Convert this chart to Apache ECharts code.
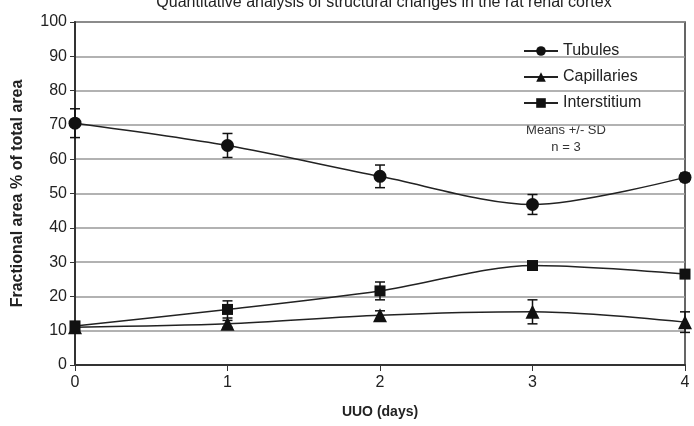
<!DOCTYPE html>
<html>
<head>
<meta charset="utf-8">
<script src="https://cdn.jsdelivr.net/npm/echarts@6/dist/echarts.min.js"></script>
<style>
  html, body { margin: 0; padding: 0; background: #fff; }
  #chart { width: 694px; height: 426px; }
</style>
</head>
<body>
<div id="chart"></div>
<script>
// data
const days = [0, 1, 2, 3, 4]
const tubules = [70.5, 64, 55, 46.8, 54.7]
const tubulesSD = [4.2, 3.5, 3.3, 2.9, 1.2]
const capillaries = [11, 12, 14.5, 15.5, 12.5]
const capillariesSD = [0.8, 1, 1.3, 3.5, 3]
const interstitium = [11.4, 16.2, 21.6, 29, 26.5]
const interstitiumSD = [0.8, 2.5, 2.6, 1, 1]

const font = 'Liberation Sans, Arial, sans-serif'

function pairs(ys) {
  return days.map((d, i) => [d, ys[i]])
}

function errorSeries(ys, sd) {
  return {
    type: 'custom',
    silent: true,
    z: 3,
    data: days.map((d, i) => [d, ys[i] - sd[i], ys[i] + sd[i]]),
    renderItem(params, api) {
      const lo = api.coord([api.value(0), api.value(1)])
      const hi = api.coord([api.value(0), api.value(2)])
      const w = 5
      const style = { stroke: '#111', lineWidth: 1.5 }
      return {
        type: 'group',
        children: [
          { type: 'line', shape: { x1: lo[0], y1: lo[1], x2: hi[0], y2: hi[1] }, style },
          { type: 'line', shape: { x1: lo[0] - w, y1: lo[1], x2: lo[0] + w, y2: lo[1] }, style },
          { type: 'line', shape: { x1: hi[0] - w, y1: hi[1], x2: hi[0] + w, y2: hi[1] }, style }
        ]
      }
    }
  }
}

function lineSeries(name, ys, symbol, size) {
  return {
    name,
    type: 'line',
    data: pairs(ys),
    smooth: 0.3,
    symbol,
    symbolSize: size,
    z: 4,
    lineStyle: { color: '#222', width: 1.5 },
    itemStyle: { color: '#111' }
  }
}

const chart = echarts.init(document.getElementById('chart'))
chart.setOption({
  animation: false,
  title: {
    text: 'Quantitative analysis of structural changes in the rat renal cortex',
    left: 379,
    textAlign: 'center',
    top: -10,
    textStyle: { fontFamily: font, fontSize: 16, fontWeight: 'normal', color: '#222' }
  },
  legend: {
    orient: 'vertical',
    left: 518,
    top: 38,
    itemGap: 10,
    itemWidth: 34,
    itemHeight: 12,
    data: ['Tubules', 'Capillaries', 'Interstitium'],
    textStyle: { fontFamily: font, fontSize: 16, color: '#222' }
  },
  graphic: [{
    type: 'text',
    x: 566,
    y: 122,
    style: {
      text: 'Means +/- SD\nn = 3',
      fontFamily: font,
      fontSize: 13,
      lineHeight: 17,
      align: 'center',
      fill: '#333'
    }
  }],
  grid: {
    left: 75,
    right: 9,
    top: 22,
    bottom: 61,
    show: true,
    borderColor: '#333',
    borderWidth: 1.5
  },
  xAxis: {
    type: 'value',
    min: 0,
    max: 4,
    interval: 1,
    name: 'UUO (days)',
    nameLocation: 'middle',
    nameGap: 40,
    nameTextStyle: { fontFamily: font, fontSize: 14, fontWeight: 'bold', color: '#222' },
    axisLine: { lineStyle: { color: '#333', width: 2 } },
    axisTick: { show: true, length: 6, lineStyle: { color: '#333' } },
    axisLabel: { fontFamily: font, fontSize: 16, color: '#222', margin: 10 },
    splitLine: { show: false }
  },
  yAxis: {
    type: 'value',
    min: 0,
    max: 100,
    interval: 10,
    name: 'Fractional area % of total area',
    nameLocation: 'middle',
    nameGap: 49,
    nameTextStyle: { fontFamily: font, fontSize: 16, fontWeight: 'bold', color: '#222' },
    axisLine: { show: true, lineStyle: { color: '#333', width: 2 } },
    axisTick: { show: true, length: 5, lineStyle: { color: '#333' } },
    axisLabel: { fontFamily: font, fontSize: 16, color: '#222', margin: 8 },
    splitLine: { show: true, lineStyle: { color: '#999', width: 1.5 } }
  },
  series: [
    lineSeries('Tubules', tubules, 'circle', 13),
    lineSeries('Capillaries', capillaries, 'triangle', 14),
    lineSeries('Interstitium', interstitium, 'rect', 11),
    errorSeries(tubules, tubulesSD),
    errorSeries(capillaries, capillariesSD),
    errorSeries(interstitium, interstitiumSD)
  ]
})
</script>
</body>
</html>
